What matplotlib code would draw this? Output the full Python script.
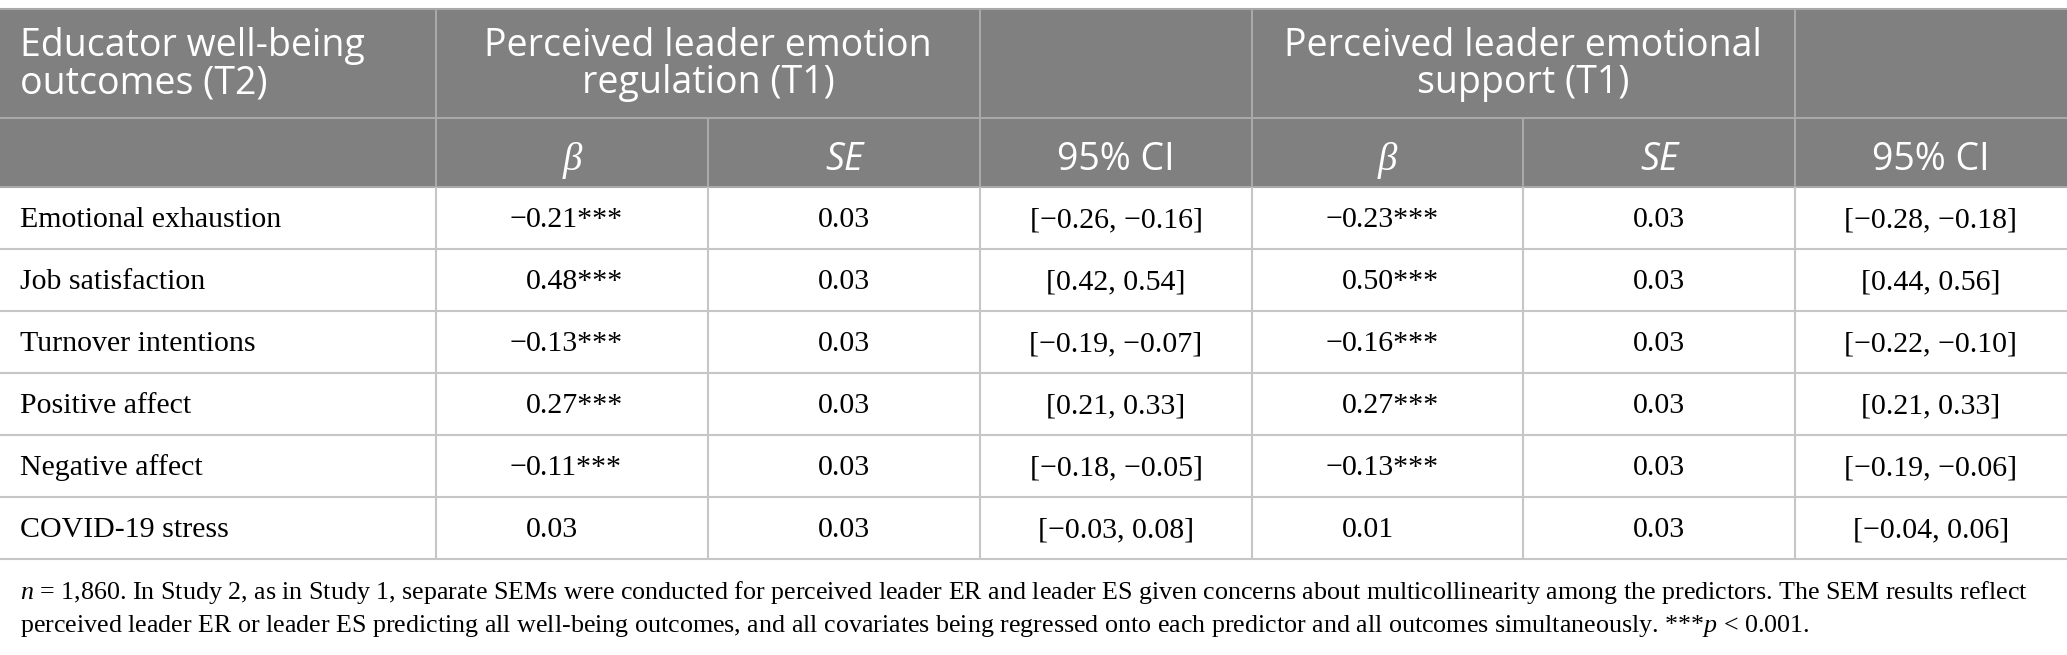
import matplotlib
matplotlib.use("Agg")
from matplotlib import pyplot as plt
from matplotlib.patches import Rectangle

plt.rcParams["mathtext.fontset"] = "custom"
plt.rcParams["mathtext.rm"] = "Liberation Serif"
plt.rcParams["mathtext.it"] = "Liberation Serif:italic"

# table values
outcomes = [
    "Emotional exhaustion",
    "Job satisfaction",
    "Turnover intentions",
    "Positive affect",
    "Negative affect",
    "COVID-19 stress",
]
erBeta = [-0.21, 0.48, -0.13, 0.27, -0.11, 0.03]
erSig = ["***", "***", "***", "***", "***", ""]
erSE = [0.03, 0.03, 0.03, 0.03, 0.03, 0.03]
erLow = [-0.26, 0.42, -0.19, 0.21, -0.18, -0.03]
erHigh = [-0.16, 0.54, -0.07, 0.33, -0.05, 0.08]
esBeta = [-0.23, 0.50, -0.16, 0.27, -0.13, 0.01]
esSig = ["***", "***", "***", "***", "***", ""]
esSE = [0.03, 0.03, 0.03, 0.03, 0.03, 0.03]
esLow = [-0.28, 0.44, -0.22, 0.21, -0.19, -0.04]
esHigh = [-0.18, 0.56, -0.10, 0.33, -0.06, 0.06]

groupHeaders = [
    "Perceived leader emotion\nregulation (T1)",
    "Perceived leader emotional\nsupport (T1)",
]
firstHeader = "Educator well-being\noutcomes (T2)"
footnote = [
    "$n$ = 1,860. In Study 2, as in Study 1, separate SEMs were conducted for perceived leader ER and leader ES given concerns about multicollinearity among the predictors. The SEM results reflect",
    "perceived leader ER or leader ES predicting all well-being outcomes, and all covariates being regressed onto each predictor and all outcomes simultaneously. ***$p$ < 0.001.",
]


def num(x):
    # minus sign like the typeset table
    s = "%.2f" % abs(x)
    return ("\u2212" + s) if x < 0 else s


W, H = 2067, 655
colEdges = [0, 436, 708, 980, 1252, 1523, 1795, 2067]
rowEdges = [9, 118, 187, 249, 311, 373, 435, 497, 559]
headGrey = "#808080"
headLine = "#a9a9a9"
bodyLine = "#c6c6c6"
sans = "Open Sans"
serif = "Liberation Serif"

fig = plt.figure(figsize=(W / 100, H / 100), dpi=100)
ax = fig.add_axes([0, 0, 1, 1])
ax.set_xlim(0, W)
ax.set_ylim(H, 0)
ax.axis("off")

# header background
ax.add_patch(Rectangle((0, rowEdges[0]), W, rowEdges[2] - rowEdges[0], color=headGrey, lw=0))

# horizontal lines
ax.hlines(rowEdges[:3], 0, W, colors=headLine, lw=1.5)
ax.hlines(rowEdges[3:], 0, W, colors=bodyLine, lw=1.5)
# vertical lines, header row 1 has merged cells
for x in [colEdges[1], colEdges[3], colEdges[4], colEdges[6]]:
    ax.vlines(x, rowEdges[0], rowEdges[1], colors=headLine, lw=1.5)
for x in colEdges[1:-1]:
    ax.vlines(x, rowEdges[1], rowEdges[2], colors=headLine, lw=1.5)
    ax.vlines(x, rowEdges[2], rowEdges[-1], colors=bodyLine, lw=1.5)

# header text
headSize = 27
midRow1 = (rowEdges[0] + rowEdges[1]) / 2 + 1
midRow2 = (rowEdges[1] + rowEdges[2]) / 2 + 8
ax.text(20, midRow1, firstHeader, ha="left", va="center", color="white",
        fontsize=headSize, family=sans, linespacing=0.98)
ax.text(colEdges[2], midRow1, groupHeaders[0], ha="center", va="center", color="white",
        fontsize=headSize, family=sans, linespacing=0.98)
ax.text(colEdges[5], midRow1, groupHeaders[1], ha="center", va="center", color="white",
        fontsize=headSize, family=sans, linespacing=0.98)
for start in [1, 4]:
    c = [(colEdges[start + k] + colEdges[start + k + 1]) / 2 for k in range(3)]
    ax.text(c[0], midRow2, "\u03b2", ha="center", va="center", color="white",
            fontsize=headSize + 1, family=serif, style="italic")
    ax.text(c[1], midRow2, "SE", ha="center", va="center", color="white",
            fontsize=headSize, family=sans, style="italic")
    ax.text(c[2], midRow2, "95% CI", ha="center", va="center", color="white",
            fontsize=headSize, family=sans)

# body
bodySize = 21.5
groups = [
    (1, erBeta, erSig, erSE, erLow, erHigh),
    (4, esBeta, esSig, esSE, esLow, esHigh),
]
for i, name in enumerate(outcomes):
    y = (rowEdges[2 + i] + rowEdges[3 + i]) / 2 + 2
    ax.text(20, y, name, ha="left", va="center", fontsize=bodySize, family=serif)
    for start, beta, sig, se, lo, hi in groups:
        left = colEdges[start]
        digitX = left + 90
        ax.text(digitX, y, "%.2f" % abs(beta[i]) + sig[i], ha="left", va="center",
                fontsize=bodySize, family=serif)
        if beta[i] < 0:
            ax.text(digitX, y, "\u2212", ha="right", va="center",
                    fontsize=bodySize, family=serif)
        seX = (colEdges[start + 1] + colEdges[start + 2]) / 2
        ax.text(seX, y, "%.2f" % se[i], ha="center", va="center",
                fontsize=bodySize, family=serif)
        ciX = (colEdges[start + 2] + colEdges[start + 3]) / 2
        ax.text(ciX, y, "[%s, %s]" % (num(lo[i]), num(hi[i])), ha="center", va="center",
                fontsize=bodySize, family=serif)

# footnote
ax.text(20, 593, footnote[0], ha="left", va="center", fontsize=18.7, family=serif)
ax.text(20, 626, footnote[1], ha="left", va="center", fontsize=18.7, family=serif)

fig.savefig("out.png", dpi=100)
